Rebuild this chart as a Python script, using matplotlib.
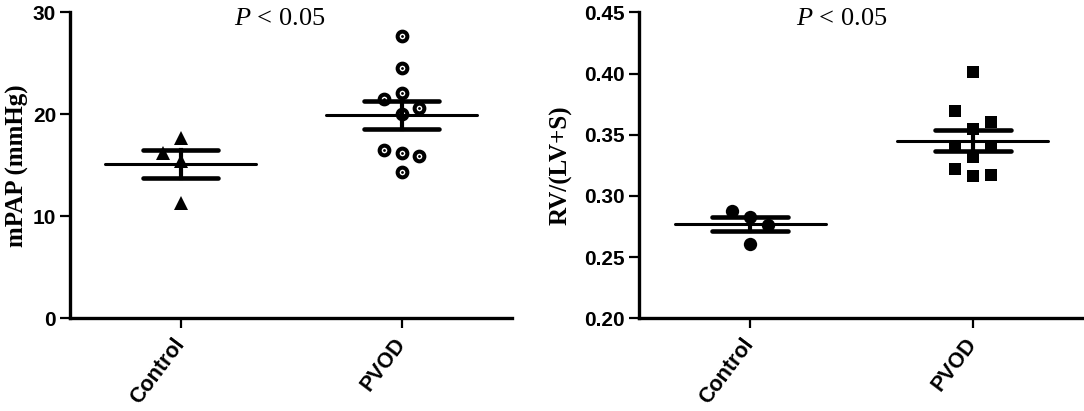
import numpy as np
import matplotlib
matplotlib.use("Agg")
import matplotlib.pyplot as plt

# ---------------- data ----------------
groups = ["Control", "PVOD"]
mpap_control = [17.7, 16.2, 15.4, 11.3]
mpap_pvod = [27.7, 24.5, 22.1, 21.5, 20.6, 20.0, 16.5, 16.2, 15.9, 14.3]
rv_control = [0.288, 0.283, 0.276, 0.261]
rv_pvod = [0.401, 0.369, 0.360, 0.355, 0.340, 0.340, 0.332, 0.322, 0.316, 0.317]
mpap_ticks = [0, 10, 20, 30]
rv_ticks = [0.20, 0.25, 0.30, 0.35, 0.40, 0.45]
p_text = "$P$ < 0.05"

# jitter pattern (layout only), in units of one step
jit_mpap_control = [0, -1, 0, 0]
jit_mpap_pvod = [0, 0, 0, -1, 1, 0, -1, 0, 1, 0]
jit_rv_control = [-1, 0, 1, 0]
jit_rv_pvod = [0, -1, 1, 0, -1, 1, 0, -1, 0, 1]
STEP = 0.081

plt.rcParams["mathtext.fontset"] = "custom"
plt.rcParams["mathtext.it"] = "Liberation Serif:italic"
plt.rcParams["mathtext.rm"] = "Liberation Serif"

W, H = 1084, 411
fig = plt.figure(figsize=(W / 100, H / 100), dpi=100)
ax_h = 306 / H
ax_b = 1 - 318.3 / H
ax1 = fig.add_axes([70 / W, ax_b, 442 / W, ax_h])
ax2 = fig.add_axes([639 / W, ax_b, 445 / W, ax_h])


def mean_sem(ax, x, vals):
    v = np.asarray(vals, float)
    m = v.mean()
    s = v.std(ddof=1) / np.sqrt(len(v))
    ax.plot([x - 0.34, x + 0.34], [m, m], color="black", lw=2.2,
            solid_capstyle="round", zorder=5)
    for yy in (m - s, m + s):
        ax.plot([x - 0.17, x + 0.17], [yy, yy], color="black", lw=3.3,
                solid_capstyle="round", zorder=5)
    ax.plot([x, x], [m - s, m + s], color="black", lw=3.0, zorder=5)


def style(ax, ticks, ylabel, ylabel_x, fmt, p_x):
    ax.set_xlim(-0.5, 1.5)
    ax.set_ylim(ticks[0], ticks[-1])
    ax.set_yticks(ticks)
    ax.set_yticklabels([fmt.format(t) for t in ticks],
                       fontfamily="Liberation Sans", fontweight="bold",
                       fontsize=15)
    ax.set_xticks([0, 1])
    ax.set_xticklabels(groups, fontfamily="Liberation Sans",
                       fontweight="bold", fontsize=15.5, rotation=53,
                       ha="right", va="center", rotation_mode="anchor")
    for sp in ("top", "right"):
        ax.spines[sp].set_visible(False)
    for sp in ("left", "bottom"):
        ax.spines[sp].set_linewidth(2.4)
    ax.tick_params(axis="both", width=1.6, length=7, direction="out",
                   pad=3, color="black")
    ax.tick_params(axis="x", pad=9)
    ax.set_ylabel(ylabel, fontfamily="Liberation Serif", fontweight="bold",
                  fontsize=18, va="center")
    ax.yaxis.set_label_coords(ylabel_x, 0.5)
    ax.text(p_x, ticks[0] + (ticks[-1] - ticks[0]) * 0.958, p_text,
            fontfamily="Liberation Serif", fontsize=19, ha="center",
            va="baseline")


# ---- left panel: mPAP ----
x0 = 0 + STEP * np.array(jit_mpap_control)
ax1.plot(x0, mpap_control, linestyle="none", marker="^", ms=10,
         mfc="black", mec="black", mew=0, zorder=3)
x1 = 1 + STEP * np.array(jit_mpap_pvod)
ax1.plot(x1, mpap_pvod, linestyle="none", marker="o", ms=7.0,
         mfc="white", mec="black", mew=2.9, zorder=3)
ax1.plot(x1, mpap_pvod, linestyle="none", marker="o", ms=2.0,
         mfc="black", mec="black", mew=0, zorder=4)
mean_sem(ax1, 0, mpap_control)
mean_sem(ax1, 1, mpap_pvod)
style(ax1, mpap_ticks, "mPAP (mmHg)", -0.118, "{:g}", 0.45)

# ---- right panel: RV/(LV+S) ----
x0 = 0 + STEP * np.array(jit_rv_control)
ax2.plot(x0, rv_control, linestyle="none", marker="o", ms=9.6,
         mfc="black", mec="black", mew=0, zorder=3)
x1 = 1 + STEP * np.array(jit_rv_pvod)
ax2.plot(x1, rv_pvod, linestyle="none", marker="s", ms=9.0,
         mfc="black", mec="black", mew=0, zorder=3)
mean_sem(ax2, 0, rv_control)
mean_sem(ax2, 1, rv_pvod)
style(ax2, rv_ticks, "RV/(LV+S)", -0.175, "{:.2f}", 0.41)

fig.savefig("out.png", dpi=100)
